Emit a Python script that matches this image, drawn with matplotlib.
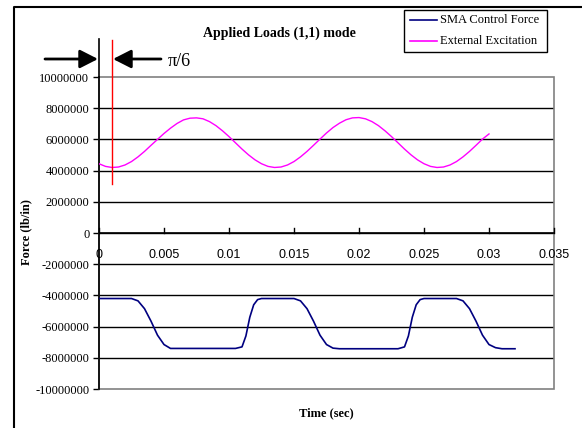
import matplotlib
matplotlib.use("Agg")
import matplotlib.pyplot as plt
from matplotlib.patches import Rectangle, FancyArrowPatch
from matplotlib.lines import Line2D

# ---------------- data ----------------
title = "Applied Loads (1,1) mode"
xlabel = "Time (sec)"
ylabel = "Force (lb/in)"
series_names = ["SMA Control Force", "External Excitation"]

# External excitation (read every 0.0005 s), values in millions
exc_t = [i * 0.0005 for i in range(61)]
exc_v = [4.44, 4.27, 4.20, 4.23, 4.36, 4.58, 4.88, 5.23, 5.62, 6.00, 6.38, 6.72,
         7.02, 7.25, 7.36, 7.38, 7.32, 7.14, 6.88, 6.55, 6.18, 5.78, 5.38, 5.01, 4.69,
         4.44, 4.27, 4.20, 4.23, 4.36, 4.58, 4.88, 5.23, 5.62, 6.02, 6.41, 6.76,
         7.04, 7.26, 7.38, 7.40, 7.32, 7.14, 6.88, 6.55, 6.18, 5.78, 5.38, 5.01, 4.69,
         4.44, 4.27, 4.20, 4.23, 4.36, 4.58, 4.88, 5.23, 5.62, 6.02, 6.35]

# SMA control force, values in millions
sma_t = [0.0, 0.0025, 0.003, 0.0035, 0.004, 0.0045, 0.005, 0.0055,
         0.0105, 0.011, 0.0113, 0.0116, 0.0119, 0.0122, 0.0125,
         0.0150, 0.0155, 0.0160, 0.0165, 0.0170, 0.0175, 0.0180, 0.0185,
         0.0230, 0.0235, 0.0238, 0.0241, 0.0244, 0.0247, 0.0250,
         0.0275, 0.0280, 0.0285, 0.0290, 0.0295, 0.0300, 0.0305, 0.0310, 0.0320]
sma_v = [-4.2, -4.2, -4.35, -4.85, -5.65, -6.55, -7.15, -7.4,
         -7.4, -7.3, -6.6, -5.4, -4.6, -4.27, -4.2,
         -4.2, -4.35, -4.85, -5.65, -6.55, -7.15, -7.38, -7.42,
         -7.42, -7.3, -6.6, -5.4, -4.6, -4.27, -4.2,
         -4.2, -4.35, -4.85, -5.65, -6.55, -7.15, -7.35, -7.42, -7.42]

marker_t = 0.001          # pi/6 phase marker
marker_range = [3.14, 12.4]

yticks = [-10, -8, -6, -4, -2, 0, 2, 4, 6, 8, 10]
xticks = [0, 0.005, 0.01, 0.015, 0.02, 0.025, 0.03, 0.035]
xticklabels = ["0", "0.005", "0.01", "0.015", "0.02", "0.025", "0.03", "0.035"]

# ---------------- figure ----------------
W, H = 582, 428
fig = plt.figure(figsize=(W / 100, H / 100), dpi=100)
serif = ["Liberation Serif", "DejaVu Serif"]
sans = ["Liberation Sans", "DejaVu Sans"]

def fx(px):
    return px / W

def fy(py):
    return 1 - py / H

ax = fig.add_axes([fx(99), fy(389), fx(554) - fx(99), fy(77) - fy(389)])
M = 1e6
ax.set_xlim(0, 0.035)
ax.set_ylim(-10 * M, 10 * M)

# grid
for v in yticks:
    if abs(v) < 10:
        ax.axhline(v * M, color="black", lw=1.0, zorder=1)
# plot area border (gray)
for s in ["top", "right", "bottom"]:
    ax.spines[s].set_visible(False)
ax.add_patch(Rectangle((0, 0), 1, 1, transform=ax.transAxes, fill=False,
                       edgecolor="#808080", lw=1.2, zorder=2, clip_on=False))
ax.spines["left"].set_color("black")
ax.spines["left"].set_linewidth(1.2)
ax.spines["left"].set_zorder(3)
ax.axhline(0, color="black", lw=1.2, zorder=3)

ax.plot(sma_t, [v * M for v in sma_v], color="#000080", lw=1.2, zorder=4,
        label=series_names[0])
ax.plot(exc_t, [v * M for v in exc_v], color="#FF00FF", lw=1.0, zorder=4,
        label=series_names[1])

# y ticks
ax.set_yticks([v * M for v in yticks])
ax.set_yticklabels([str(int(v * M)) for v in yticks], fontfamily=serif, fontsize=9)
ax.tick_params(axis="y", direction="out", length=4, width=1, pad=3)

# x ticks on zero line, pointing up
ax.set_xticks([])
for t, lab in zip(xticks, xticklabels):
    ax.plot([t, t], [0, 0.3 * M], color="black", lw=1, zorder=3, clip_on=False)
    ax.annotate(lab, xy=(t, 0), xycoords="data",
                xytext=(0, -16), textcoords="offset points", ha="center",
                va="center", fontsize=9, fontfamily=sans)

# phase marker
ax.plot([marker_t, marker_t], [marker_range[0] * M, marker_range[1] * M],
        color="red", lw=1.0, zorder=5, clip_on=False)
ax.plot([0, 0], [10 * M, 12.45 * M], color="black", lw=1.2, clip_on=False)

# arrows (figure pixel positions)
for x0, x1 in [(45, 98), (161, 113)]:
    arr = FancyArrowPatch((fx(x0), fy(59)), (fx(x1), fy(59)),
                          transform=fig.transFigure,
                          arrowstyle="-|>,head_length=0.55,head_width=0.28",
                          mutation_scale=20, lw=2, color="black",
                          shrinkA=0, shrinkB=0)
    fig.patches.append(arr)
fig.text(fx(168), fy(61), "\u03c0/6", fontsize=13, fontfamily=serif,
         ha="left", va="center")

# title and labels
fig.text(fx(279), fy(33), title, fontsize=10, fontweight="bold",
         fontfamily=serif, ha="center", va="center")
fig.text(fx(26), fy(232), ylabel, fontsize=9, fontweight="bold",
         fontfamily=serif, ha="center", va="center", rotation=90)
fig.text(fx(326), fy(413), xlabel, fontsize=9, fontweight="bold",
         fontfamily=serif, ha="center", va="center")

# legend box
fig.patches.append(Rectangle((fx(404), fy(52)), fx(547) - fx(404), fy(10) - fy(52),
                             transform=fig.transFigure, fill=True, facecolor="white",
                             edgecolor="black", lw=1))
for i, (name, col) in enumerate(zip(series_names, ["#000080", "#FF00FF"])):
    yy = 20 + i * 21
    fig.lines.append(Line2D([fx(410), fx(437)], [fy(yy), fy(yy)],
                            transform=fig.transFigure, color=col, lw=1.2))
    fig.text(fx(440), fy(yy), name, fontsize=9, fontfamily=serif,
             ha="left", va="center")

# outer frame (cropped)
fig.lines.append(Line2D([fx(14), fx(14), fx(582)], [fy(428), fy(7), fy(7)],
                        transform=fig.transFigure, color="black", lw=1.5))

fig.savefig("out.png", dpi=100)
